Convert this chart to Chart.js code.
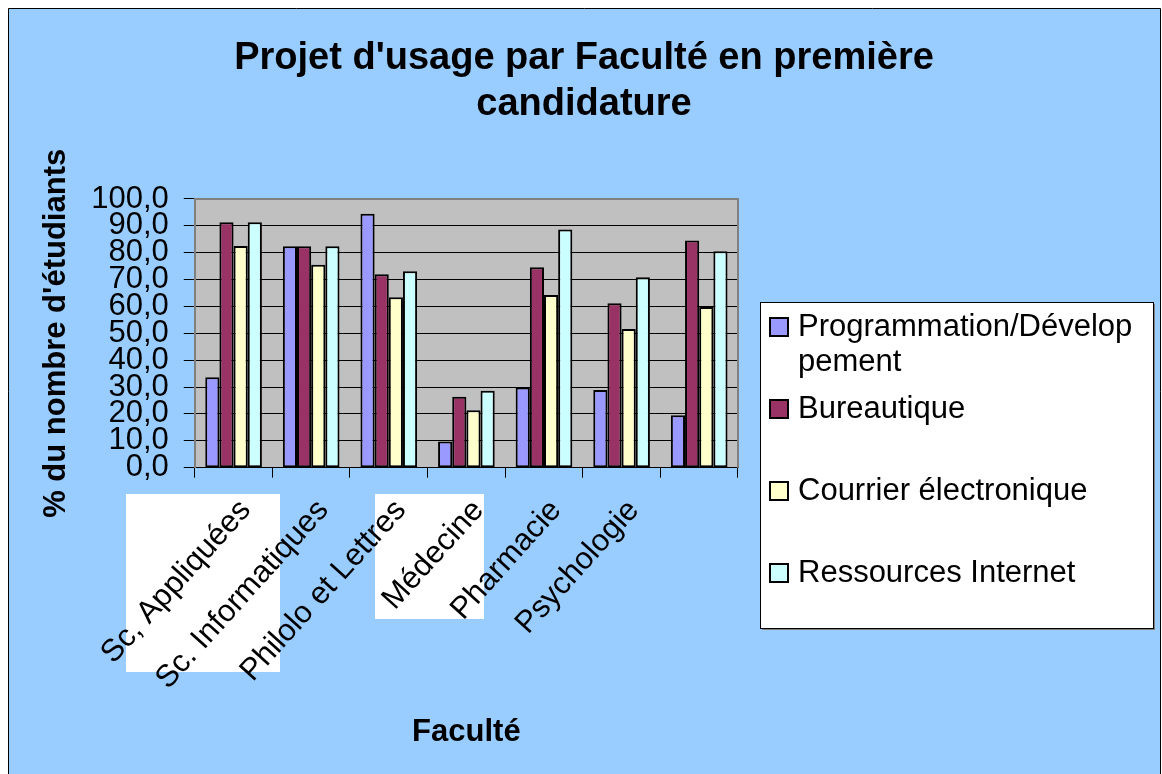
<!DOCTYPE html>
<html>
<head>
<meta charset="utf-8">
<script src="https://cdn.jsdelivr.net/npm/chart.js@4"></script>
<style>
  html, body { margin: 0; padding: 0; background: #fff; }
  #wrap { width: 1162px; height: 774px; position: relative; }
</style>
</head>
<body>
<div id="wrap"><canvas id="chart"></canvas></div>
<script>
// Data
const faculties = ['Sc, Appliquées', 'Sc. Informatiques', 'Philolo et Lettres', 'Médecine', 'Pharmacie', 'Psychologie', ''];
const seriesNames = ['Programmation/Développement', 'Bureautique', 'Courrier électronique', 'Ressources Internet'];
const legendLines = [['Programmation/Dévelop', 'pement'], ['Bureautique'], ['Courrier électronique'], ['Ressources Internet']];
const programmation = [33.6, 82.4, 94.5, 9.7, 29.8, 28.9, 19.5];
const bureautique = [91.3, 82.4, 72.0, 26.4, 74.6, 61.2, 84.5];
const courrier = [82.5, 75.5, 63.4, 21.4, 64.3, 51.6, 59.8];
const ressources = [91.3, 82.4, 73.1, 28.6, 88.6, 70.9, 80.5];
const yTicks = [0, 10, 20, 30, 40, 50, 60, 70, 80, 90, 100];

const seriesColors = ['#9999FF', '#993366', '#FFFFCC', '#CCFFFF'];
const seriesValues = [programmation, bureautique, courrier, ressources];

// White patches that sit behind some of the category labels
const labelPatches = [
    { x: 126, y: 494, w: 154, h: 178 },
    { x: 375, y: 494, w: 109, h: 125 }
];

Chart.defaults.font.family = '"Liberation Sans", Arial, sans-serif';
Chart.defaults.color = '#000';

// Backgrounds, frame and plot area
const backdrop = {
    id: 'backdrop',
    beforeDraw(chart) {
        const { ctx, width, height, chartArea } = chart;
        ctx.save();
        ctx.fillStyle = '#fff';
        ctx.fillRect(0, 0, width, height);
        ctx.fillStyle = '#99CCFF';
        ctx.fillRect(8, 8, width - 10, height - 8);
        ctx.strokeStyle = '#000';
        ctx.lineWidth = 1;
        ctx.beginPath();
        ctx.moveTo(8.5, height);
        ctx.lineTo(8.5, 8.5);
        ctx.lineTo(width - 1.5, 8.5);
        ctx.lineTo(width - 1.5, height);
        ctx.stroke();
        ctx.fillStyle = '#fff';
        labelPatches.forEach(p => ctx.fillRect(p.x, p.y, p.w, p.h));
        ctx.fillStyle = '#C0C0C0';
        ctx.fillRect(chartArea.left, chartArea.top, chartArea.width, chartArea.height);
        ctx.restore();
    },
    beforeDatasetsDraw(chart) {
        const { ctx, chartArea } = chart;
        ctx.save();
        ctx.strokeStyle = '#808080';
        ctx.lineWidth = 2;
        ctx.beginPath();
        ctx.moveTo(chartArea.left, chartArea.top);
        ctx.lineTo(chartArea.right, chartArea.top);
        ctx.lineTo(chartArea.right, chartArea.bottom);
        ctx.stroke();
        ctx.restore();
    }
};

// Boxed legend drawn to the right of the plot
const boxLegend = {
    id: 'boxLegend',
    afterDraw(chart) {
        const { ctx } = chart;
        const left = 760, top = 302, w = 393, h = 326;
        ctx.save();
        ctx.fillStyle = '#808080';
        ctx.fillRect(left + 2, top + 2, w, h);
        ctx.fillStyle = '#fff';
        ctx.fillRect(left, top, w, h);
        ctx.strokeStyle = '#000';
        ctx.lineWidth = 1;
        ctx.strokeRect(left + 0.5, top + 0.5, w, h);
        ctx.font = '31px "Liberation Sans", Arial, sans-serif';
        ctx.textBaseline = 'middle';
        ctx.textAlign = 'left';
        chart.data.datasets.forEach((ds, i) => {
            const cy = top + 25 + i * 82;
            ctx.fillStyle = ds.backgroundColor;
            ctx.fillRect(left + 9, cy - 10, 20, 20);
            ctx.strokeStyle = '#000';
            ctx.lineWidth = 2;
            ctx.strokeRect(left + 10, cy - 9, 18, 18);
            ctx.fillStyle = '#000';
            legendLines[i].forEach((line, j) => ctx.fillText(line, left + 38, cy + j * 35));
        });
        ctx.restore();
    }
};

const chart = new Chart(document.getElementById('chart'), {
    type: 'bar',
    data: {
        labels: faculties,
        datasets: seriesNames.map((name, i) => ({
            label: name,
            data: seriesValues[i],
            backgroundColor: seriesColors[i],
            borderColor: '#000',
            borderWidth: 2,
            borderSkipped: false,
            barPercentage: 1,
            categoryPercentage: 0.73
        }))
    },
    options: {
        responsive: true,
        maintainAspectRatio: false,
        animation: false,
        layout: {
            padding: { left: 10, right: 4, top: 8, bottom: 8 }
        },
        plugins: {
            legend: { display: false },
            tooltip: { enabled: false },
            title: {
                display: true,
                text: ["Projet d'usage par Faculté en première", 'candidature'],
                font: { size: 38, weight: 'bold', lineHeight: 1.21 },
                color: '#000',
                padding: { top: 28, bottom: 71 }
            }
        },
        scales: {
            x: {
                grid: {
                    display: true,
                    drawOnChartArea: false,
                    tickLength: 10,
                    color: '#000',
                    offset: true
                },
                border: { color: '#000', width: 1 },
                ticks: {
                    font: { size: 31 },
                    minRotation: 48,
                    maxRotation: 48,
                    autoSkip: false,
                    padding: 15,
                    labelOffset: 12
                },
                title: {
                    display: true,
                    text: 'Faculté',
                    font: { size: 31, weight: 'bold' },
                    padding: { top: 2, bottom: 15 }
                }
            },
            y: {
                min: 0,
                max: 100,
                afterBuildTicks(scale) {
                    scale.ticks = yTicks.map(v => ({ value: v }));
                },
                ticks: {
                    font: { size: 31 },
                    autoSkip: false,
                    padding: 15,
                    callback: v => v.toFixed(1).replace('.', ',')
                },
                grid: { color: '#000', tickLength: 11 },
                border: { color: '#808080', width: 2 },
                title: {
                    display: true,
                    text: "% du nombre d'étudiants",
                    font: { size: 31, weight: 'bold' },
                    padding: { top: 28, bottom: 1 }
                }
            },
            // keeps room on the right for the boxed legend
            legendSpace: {
                position: 'right',
                display: true,
                grid: { display: false, drawTicks: false },
                ticks: { display: false },
                border: { display: false },
                afterFit(scale) {
                    scale.width = 420;
                }
            }
        }
    },
    plugins: [backdrop, boxLegend]
});
</script>
</body>
</html>
